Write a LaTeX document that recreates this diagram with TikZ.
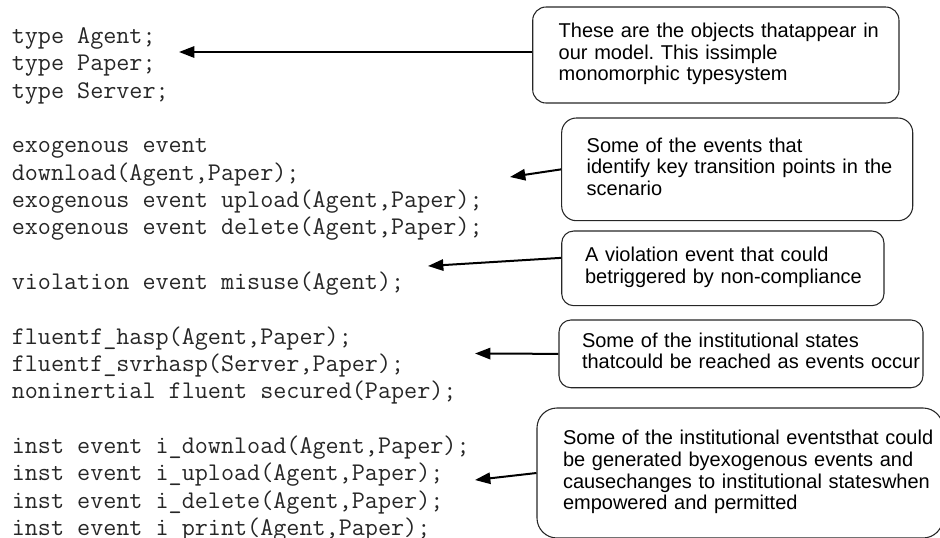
\documentclass[tikz,border=0pt]{standalone}
\usepackage{fontspec}
\setmainfont{Liberation Sans}
\usetikzlibrary{arrows.meta,calc}
\frenchspacing

\tikzset{
  note/.style={draw=black!85, line width=0.8pt, rounded corners=9pt, inner xsep=18pt, inner ysep=0pt,
    align=left, font=\fontsize{15}{16.2}\selectfont},
  listing/.style={inner sep=0pt, text=black!85, font=\ttfamily\fontsize{19.05}{20.5}\selectfont},
  pointer/.style={line width=1.5pt, -{Triangle[length=11.5pt,width=8.5pt]}}
}

\begin{document}
\begin{tikzpicture}[x=0.75pt, y=-0.75pt]
			%%%%% START %%%%%
			\useasboundingbox (0,0) rectangle (940,537);
			
			\node[listing, anchor=base west] (src) at (11.5,43.5) {\begin{tabular}[t]{@{}l@{}}
				type Agent;\\
				type Paper;\\
				type Server;\\
				\\
				exogenous event\\
				download(Agent,Paper);\\
				exogenous event upload(Agent,Paper);\\
				exogenous event delete(Agent,Paper);\\
				\\
				violation event misuse(Agent);\\
				\\
				fluentf\_hasp(Agent,Paper);\\
				fluentf\_svrhasp(Server,Paper);\\
				noninertial fluent secured(Paper);\\
				\\
				inst event i\_download(Agent,Paper);\\
				inst event i\_upload(Agent,Paper);\\
				inst event i\_delete(Agent,Paper);\\
				inst event i\_print(Agent,Paper);
			\end{tabular}};
			
			\node[note, rounded corners=10pt, inner xsep=19.5pt, minimum width=274.7pt, minimum height=72pt, text width=235.7pt] (objects) at (715.85,55)
				{\begin{tabular}{@{}l@{}}These are the objects thatappear in\\our model. This issimple\\monomorphic typesystem\end{tabular}};
			\node[note, rounded corners=11pt, inner xsep=18.75pt, minimum width=263.3pt, minimum height=77pt, text width=225.8pt] (events) at (737.2,169.35)
				{\begin{tabular}{@{}l@{}}Some of the events that\\identify key transition points in the\\scenario\end{tabular}};
			\node[note, inner xsep=17.5pt, minimum width=241.7pt, minimum height=56pt, text width=206.7pt] (violation) at (722.85,268.35)
				{\begin{tabular}{@{}l@{}}A violation event that could\\betriggered by non-compliance\end{tabular}};
			\node[note, inner xsep=17.25pt, minimum width=273pt, minimum height=50.8pt, text width=238.5pt] (states) at (741,353.85)
				{\begin{tabular}{@{}l@{}}Some of the institutional states\\thatcould be reached as events occur\end{tabular}};
			\node[note, rounded corners=15pt, inner xsep=19.5pt, minimum width=304.5pt, minimum height=97.5pt, text width=265.5pt] (instevents) at (740,473)
				{\begin{tabular}{@{}l@{}}Some of the institutional eventsthat could\\be generated byexogenous events and\\causechanges to institutional stateswhen\\empowered and permitted\end{tabular}};
			
			\coordinate (tip1) at (179,52);
			\coordinate (tip2) at (510,177);
			\coordinate (tip3) at (428,266);
			\coordinate (tip4) at (475,353.5);
			\coordinate (tip5) at (475,480);
			
			\draw[pointer] (objects.west |- tip1) -- (tip1);
			\draw[pointer] (events.west) -- (tip2);
			\draw[pointer] ($(violation.west)+(0,-10.5)$) -- (tip3);
			\draw[pointer] (states.west) -- (tip4);
			\draw[pointer] (instevents.west) -- (tip5);
			
			%%%%% END %%%%%
\end{tikzpicture}
\end{document}
